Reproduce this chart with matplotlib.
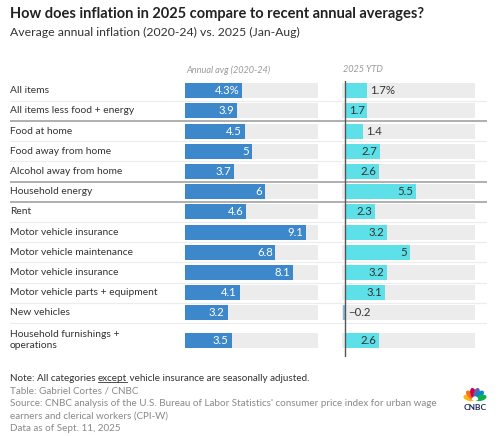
import numpy as np
import matplotlib.pyplot as plt
from matplotlib.patches import Wedge, Ellipse

plt.rcParams['font.family'] = ['Lato', 'DejaVu Sans']

categories = ['All items', 'All items less food + energy', 'Food at home',
              'Food away from home', 'Alcohol away from home', 'Household energy',
              'Rent', 'Motor vehicle insurance', 'Motor vehicle maintenance',
              'Motor vehicle insurance', 'Motor vehicle parts + equipment',
              'New vehicles', 'Household furnishings +\noperations']
avg_2020_24 = [4.3, 3.9, 4.5, 5, 3.7, 6, 4.6, 9.1, 6.8, 8.1, 4.1, 3.2, 3.5]
ytd_2025 = [1.7, 1.7, 1.4, 2.7, 2.6, 5.5, 2.3, 3.2, 5, 3.2, 3.1, -0.2, 2.6]
group_breaks = [1, 4, 5]   # thick rule after these rows

def fmt(v, first):
    s = f'{v:g}'.replace('-', '\u2212')
    return s + '%' if first else s

# row layout (last row holds two lines of text)
row_h = np.array([1.0] * (len(categories) - 1) + [1.7])
edges = np.concatenate([[0], np.cumsum(row_h)]) - 0.5
ypos = edges[:-1] + row_h / 2
ytop, ybot = edges[0], edges[-1]

W, H = 500, 436
fig = plt.figure(figsize=(W / 100, H / 100), dpi=100)
px = lambda x, y: (x / W, 1 - y / H)

top_px, bot_px = 80.6, 357.3
fb = 1 - bot_px / H
fh = (bot_px - top_px) / H

# background axes for labels and rules
bg = fig.add_axes([10 / W, fb, 477 / W, fh])
bg.set_xlim(0, 1)
bg.set_ylim(ybot, ytop)
bg.axis('off')
for i, e in enumerate(edges[1:-1]):
    if i in group_breaks:
        bg.axhline(e, color='#9a9a9a', lw=1.1, zorder=1)
    else:
        bg.axhline(e, color='#ececec', lw=0.8, zorder=1)
for y, c in zip(ypos, categories):
    bg.text(0, y, c, ha='left', va='center', fontsize=7.4, color='#333333',
            linespacing=1.35)

ax1 = fig.add_axes([185 / W, fb, 133 / W, fh])
ax2 = fig.add_axes([342 / W, fb, 133 / W, fh])
for ax in (ax1, ax2):
    ax.set_ylim(ybot, ytop)
    ax.axis('off')
    ax.patch.set_alpha(0)

bh = 0.74
ax1.set_xlim(0, 10)
ax1.barh(ypos, [10] * len(ypos), height=bh, color='#ececec', zorder=1)
ax1.barh(ypos, avg_2020_24, height=bh, color='#3d87cb', zorder=2)
for i, (y, v) in enumerate(zip(ypos, avg_2020_24)):
    ax1.annotate(fmt(v, i == 0), (v, y), xytext=(-2, 0), textcoords='offset points',
                 ha='right', va='center', color='white', fontsize=8.2)

lo, hi = -0.26, 10.05
ax2.set_xlim(lo, hi)
ax2.barh(ypos, [hi - lo] * len(ypos), left=lo, height=bh, color='#ececec', zorder=1)
ax2.barh(ypos, ytd_2025, height=bh, zorder=2,
         color=['#5de0e8' if v >= 0 else '#8cb8e6' for v in ytd_2025])
ax2.axvline(0, ymin=0, ymax=1, color='#555555', lw=1, zorder=3)

r = fig.canvas.get_renderer()
ppu = 133 / (hi - lo)
for i, (y, v) in enumerate(zip(ypos, ytd_2025)):
    s = fmt(v, i == 0)
    t = ax2.annotate(s, (max(v, 0), y), xytext=(-2, 0), textcoords='offset points',
                     ha='right', va='center', color='#333333', fontsize=8.2, zorder=4)
    w = t.get_window_extent(r).width
    if v <= 0 or v * ppu < w + 5:
        t.set_ha('left')
        t.xyann = (2, 0)

fig.text(*px(186, 70), 'Annual avg (2020-24)', ha='left', va='center', fontsize=6.6,
         color='#999999', style='italic')
fig.text(*px(343, 70), '2025 YTD', ha='left', va='center', fontsize=6.6,
         color='#999999', style='italic')

fig.text(*px(10, 14), 'How does inflation in 2025 compare to recent annual averages?',
         ha='left', va='center', fontsize=10.5, fontweight='bold', color='#222222')
fig.text(*px(10, 32), 'Average annual inflation (2020-24) vs. 2025 (Jan-Aug)',
         ha='left', va='center', fontsize=8.8, color='#333333')

# footer note with underlined word
fs = 7.1
x0, yn = px(10, 378)
t1 = fig.text(x0, yn, 'Note: All categories ', ha='left', va='center', fontsize=fs, color='#333333')
w1 = t1.get_window_extent(r).width / W
t2 = fig.text(x0 + w1, yn, 'except', ha='left', va='center', fontsize=fs, color='#333333')
b2 = t2.get_window_extent(r)
fig.add_artist(plt.Line2D([x0 + w1, x0 + w1 + b2.width / W], [b2.y0 / H + 0.001] * 2,
                          color='#333333', lw=0.6))
fig.text(x0 + w1 + b2.width / W, yn, ' vehicle insurance are seasonally adjusted.',
         ha='left', va='center', fontsize=fs, color='#333333')

foot = ['Table: Gabriel Cortes / CNBC',
        "Source: CNBC analysis of the U.S. Bureau of Labor Statistics' consumer price index for urban wage",
        'earners and clerical workers (CPI-W)',
        'Data as of Sept. 11, 2025']
for k, line in enumerate(foot):
    fig.text(*px(10, 391 + 12.4 * k), line, ha='left', va='center', fontsize=fs, color='#888888')

# CNBC peacock
lg = fig.add_axes([462 / W, 1 - 411 / H, 26 / W, 23 / H])
lg.set_xlim(-1.3, 1.3)
lg.set_ylim(-1.1, 1.2)
lg.axis('off')
feathers = ['#fcb711', '#f37021', '#cc004c', '#6460aa', '#0089d0', '#0db14b']
for j, c in enumerate(feathers):
    ang = 180 - 15 - j * 30
    a = np.radians(ang)
    lg.add_patch(Ellipse((0.62 * np.cos(a), 0.05 + 0.62 * np.sin(a)), 0.45, 1.0,
                         angle=ang - 90, color=c))
lg.add_patch(Wedge((0, 0.05), 0.25, 0, 180, color='white'))
lg.text(0, -0.72, 'CNBC', ha='center', va='center', fontsize=6, fontweight='bold',
        color='#1c2b5a')

fig.savefig('out.png', dpi=100)
